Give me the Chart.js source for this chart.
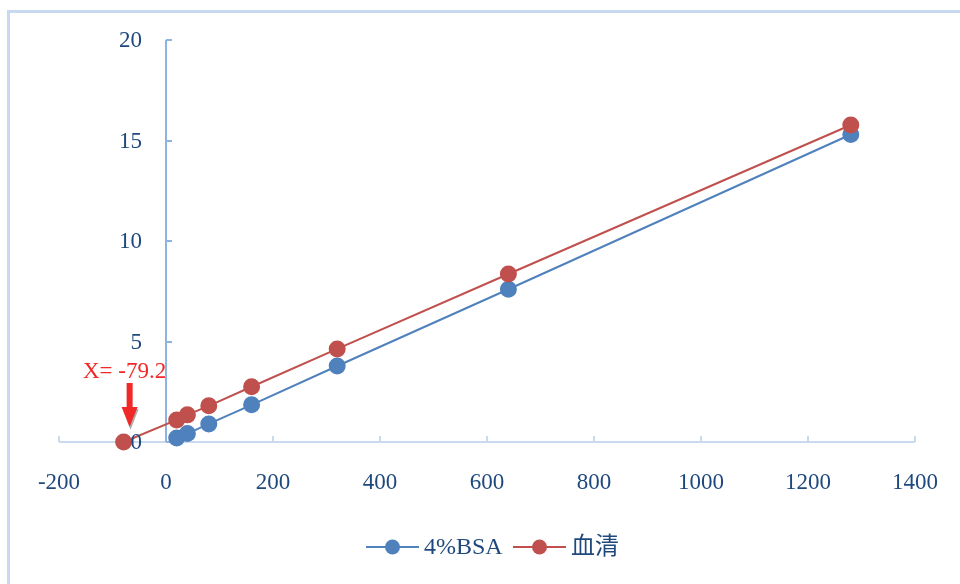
<!DOCTYPE html>
<html>
<head>
<meta charset="utf-8">
<script src="https://cdn.jsdelivr.net/npm/chart.js@4/dist/chart.umd.min.js"></script>
<style>
  html, body { margin: 0; padding: 0; background: #ffffff; }
  #c { display: block; }
</style>
</head>
<body>
<canvas id="c" width="960" height="584"></canvas>
<script>
// Dilution series (x) and measured signal for each matrix
const bsaX = [20, 40, 80, 160, 320, 640, 1280];
const bsaY = [0.2, 0.42, 0.9, 1.85, 3.78, 7.6, 15.3];

const serumX = [-79.2, 20, 40, 80, 160, 320, 640, 1280];
const serumY = [0, 1.1, 1.35, 1.8, 2.75, 4.63, 8.36, 15.77];

const seriesNames = ['4%BSA', '血清'];

const xTicks = [-200, 0, 200, 400, 600, 800, 1000, 1200, 1400];
const yTicks = [0, 5, 10, 15, 20];

// x-intercept of the serum line
const interceptX = -79.2;
const interceptLabel = 'X= -79.2';

const BLUE = '#4F81BD';
const RED = '#C0504D';
const TEXT = '#1F497D';
const SERIF = '"Liberation Serif", "DejaVu Serif", serif';

const toPoints = (xs, ys) => xs.map((x, i) => ({ x: x, y: ys[i] }));

const axesAndLabels = {
  id: 'axesAndLabels',
  beforeDraw(chart) {
    const ctx = chart.ctx;
    ctx.save();
    ctx.fillStyle = '#ffffff';
    ctx.fillRect(0, 0, chart.width, chart.height);
    // outer frame (only left and top edges fall inside the canvas)
    ctx.strokeStyle = '#C6D9F0';
    ctx.lineWidth = 3;
    ctx.strokeRect(8.5, 11.5, chart.width + 20, chart.height + 20);
    ctx.restore();
  },
  beforeDatasetsDraw(chart) {
    const ctx = chart.ctx;
    const xs = chart.scales.x, ys = chart.scales.y;
    const x0 = Math.round(xs.getPixelForValue(0));
    const y0 = Math.round(ys.getPixelForValue(0));
    ctx.save();
    // horizontal axis at y = 0
    ctx.strokeStyle = '#C9D9EE';
    ctx.lineWidth = 2;
    ctx.beginPath();
    ctx.moveTo(xs.getPixelForValue(xTicks[0]), y0);
    ctx.lineTo(xs.getPixelForValue(xTicks[xTicks.length - 1]), y0);
    xTicks.forEach(v => {
      const px = Math.round(xs.getPixelForValue(v));
      ctx.moveTo(px, y0);
      ctx.lineTo(px, y0 - 6);
    });
    ctx.stroke();
    // vertical axis at x = 0
    ctx.strokeStyle = '#8DB3E2';
    ctx.beginPath();
    ctx.moveTo(x0, ys.getPixelForValue(yTicks[yTicks.length - 1]));
    ctx.lineTo(x0, y0);
    yTicks.forEach(v => {
      const py = Math.round(ys.getPixelForValue(v));
      ctx.moveTo(x0, py);
      ctx.lineTo(x0 + 6, py);
    });
    ctx.stroke();
    ctx.restore();
  },
  afterDatasetsDraw(chart) {
    const ctx = chart.ctx;
    const xs = chart.scales.x, ys = chart.scales.y;
    const x0 = xs.getPixelForValue(0);
    const y0 = ys.getPixelForValue(0);
    ctx.save();
    ctx.fillStyle = TEXT;
    ctx.font = '23px ' + SERIF;
    // y tick labels, left of the vertical axis
    ctx.textAlign = 'right';
    ctx.textBaseline = 'middle';
    yTicks.forEach(v => {
      ctx.fillText(String(v), x0 - 24, ys.getPixelForValue(v) + 1);
    });
    // x tick labels below the horizontal axis
    ctx.textAlign = 'center';
    xTicks.forEach(v => {
      ctx.fillText(String(v), xs.getPixelForValue(v), y0 + 41);
    });

    // intercept callout
    const ax = xs.getPixelForValue(interceptX) + 6;
    ctx.fillStyle = '#F02828';
    ctx.font = '23px ' + SERIF;
    ctx.textAlign = 'center';
    ctx.textBaseline = 'alphabetic';
    ctx.fillText(interceptLabel, ax - 5, y0 - 64);
    // arrow with a soft grey shadow on its head
    ctx.fillStyle = '#B0B0B0';
    ctx.beginPath();
    ctx.moveTo(ax - 7, y0 - 33);
    ctx.lineTo(ax + 9, y0 - 33);
    ctx.lineTo(ax + 1, y0 - 12);
    ctx.closePath();
    ctx.fill();
    ctx.fillStyle = '#F02828';
    ctx.fillRect(ax - 3, y0 - 59, 6, 27);
    ctx.beginPath();
    ctx.moveTo(ax - 8, y0 - 35);
    ctx.lineTo(ax + 8, y0 - 35);
    ctx.lineTo(ax, y0 - 15);
    ctx.closePath();
    ctx.fill();
    ctx.restore();
  },
  afterDraw(chart) {
    // legend below the plot
    const ctx = chart.ctx;
    const items = [
      { ds: chart.data.datasets[0], x: 366 },
      { ds: chart.data.datasets[1], x: 513 }
    ];
    const cy = 547;
    ctx.save();
    items.forEach(it => {
      ctx.strokeStyle = it.ds.borderColor;
      ctx.lineWidth = 2;
      ctx.beginPath();
      ctx.moveTo(it.x, cy);
      ctx.lineTo(it.x + 53, cy);
      ctx.stroke();
      ctx.fillStyle = it.ds.pointBackgroundColor;
      ctx.beginPath();
      ctx.arc(it.x + 26.5, cy, 7.5, 0, Math.PI * 2);
      ctx.fill();
      ctx.fillStyle = TEXT;
      ctx.textAlign = 'left';
      ctx.textBaseline = 'middle';
      ctx.font = '24px ' + SERIF + ', "Noto Sans CJK SC"';
      ctx.fillText(it.ds.label, it.x + 58, cy + 1);
    });
    ctx.restore();
  }
};

new Chart(document.getElementById('c'), {
  type: 'scatter',
  data: {
    datasets: [
      {
        label: seriesNames[0],
        data: toPoints(bsaX, bsaY),
        showLine: true,
        borderColor: BLUE,
        backgroundColor: BLUE,
        pointBackgroundColor: BLUE,
        pointBorderColor: BLUE,
        borderWidth: 2,
        pointRadius: 7.5,
        pointHoverRadius: 7.5,
        tension: 0,
        clip: false,
        order: 2
      },
      {
        label: seriesNames[1],
        data: toPoints(serumX, serumY),
        showLine: true,
        borderColor: RED,
        backgroundColor: RED,
        pointBackgroundColor: RED,
        pointBorderColor: RED,
        borderWidth: 2,
        pointRadius: 7.5,
        pointHoverRadius: 7.5,
        tension: 0,
        clip: false,
        order: 1
      }
    ]
  },
  options: {
    responsive: false,
    devicePixelRatio: 1,
    animation: false,
    layout: { padding: { left: 59, right: 45, top: 40, bottom: 142 } },
    plugins: {
      legend: { display: false },
      tooltip: { enabled: false }
    },
    scales: {
      x: { type: 'linear', display: false, min: -200, max: 1400 },
      y: { type: 'linear', display: false, min: 0, max: 20 }
    }
  },
  plugins: [axesAndLabels]
});
</script>
</body>
</html>
